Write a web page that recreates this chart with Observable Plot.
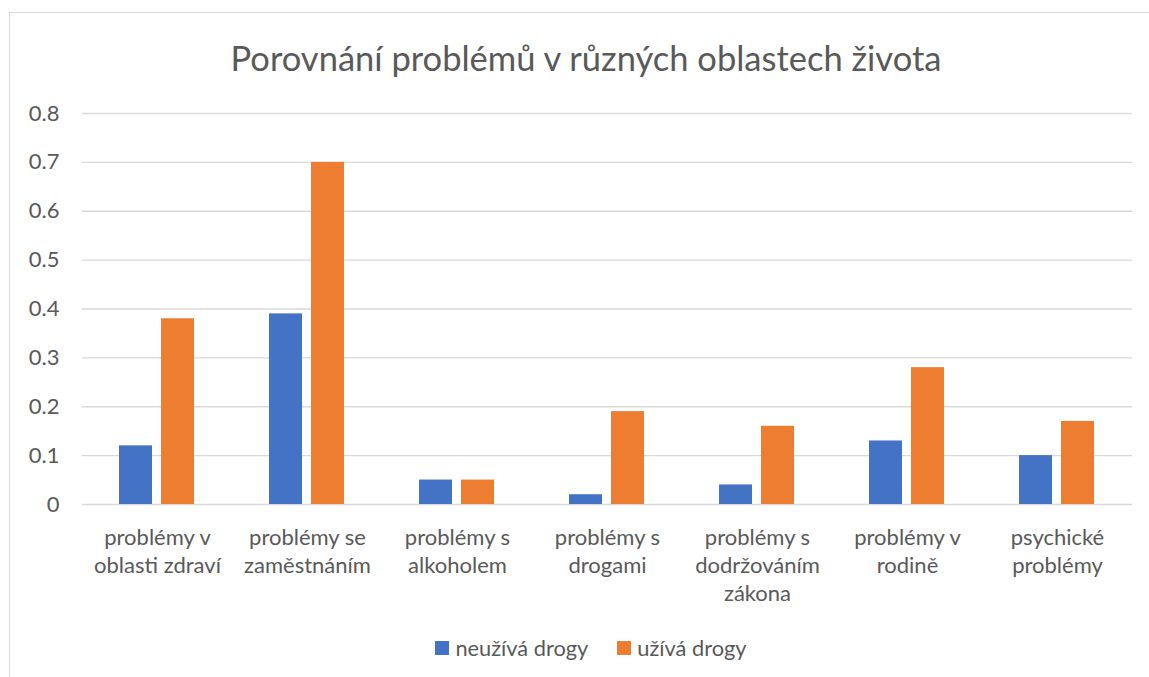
<!DOCTYPE html>
<html>
<head>
<meta charset="utf-8">
<script src="https://cdn.jsdelivr.net/npm/d3@7"></script>
<script src="https://cdn.jsdelivr.net/npm/@observablehq/plot@0.6"></script>
<style>
  html, body { margin: 0; padding: 0; background: #fff; overflow: hidden; }
  body { width: 1149px; height: 677px; position: relative; font-family: Lato, "Noto Sans", sans-serif; color: #595959; }
  #frame { position: absolute; left: 9px; top: 12px; width: 1160px; height: 700px; border: 1.5px solid #d9d9d9; box-sizing: border-box; z-index: 2; pointer-events: none; }
  #title { position: absolute; left: 0; width: 1172px; top: 36px; text-align: center; font-size: 34.5px; line-height: 44px; color: #595959; }
  #chart { position: absolute; left: 0; top: 92px; }
  #legend { position: absolute; left: 0; width: 1182px; top: 634px; display: flex; justify-content: center; gap: 29px; font-size: 21.8px; line-height: 28px; color: #595959; }
  .item { display: flex; align-items: center; gap: 6px; }
  .sw { width: 14px; height: 14px; display: inline-block; }
</style>
</head>
<body>
<div id="frame"></div>
<div id="title">Porovnání problémů v různých oblastech života</div>
<div id="chart"></div>
<div id="legend"></div>
<script>
const categories = ["zdravi", "zamestnani", "alkohol", "drogy", "zakon", "rodina", "psychicke"];
const categoryLabels = [
  "problémy v\noblasti zdraví",
  "problémy se\nzaměstnáním",
  "problémy s\nalkoholem",
  "problémy s\ndrogami",
  "problémy s\ndodržováním\nzákona",
  "problémy v\nrodině",
  "psychické\nproblémy"
];
const seriesNames = ["neužívá drogy", "užívá drogy"];
const seriesColors = ["#4472C4", "#ED7D31"];
const neuzivaValues = [0.12, 0.39, 0.05, 0.02, 0.04, 0.13, 0.10];
const uzivaValues = [0.38, 0.70, 0.05, 0.19, 0.16, 0.28, 0.17];
const yTicks = [0, 0.1, 0.2, 0.3, 0.4, 0.5, 0.6, 0.7, 0.8];

const data = [];
categories.forEach((c, i) => {
  data.push({category: c, series: seriesNames[0], value: neuzivaValues[i]});
  data.push({category: c, series: seriesNames[1], value: uzivaValues[i]});
});
const labelOf = new Map(categories.map((c, i) => [c, categoryLabels[i]]));

const chart = Plot.plot({
  width: 1149,
  height: 522,
  marginTop: 21,
  marginBottom: 110,
  marginLeft: 80,
  marginRight: 16,
  style: { fontFamily: "Lato, 'Noto Sans', sans-serif", fontSize: "22px", color: "#595959", background: "transparent", overflow: "visible" },
  fx: { domain: categories, padding: 0, label: null },
  x: { domain: seriesNames, paddingInner: 0.209, paddingOuter: 0.853, axis: null },
  y: { domain: [0, 0.8], label: null },
  color: { domain: seriesNames, range: seriesColors },
  marks: [
    Plot.gridY(yTicks, { stroke: "#d9d9d9", strokeOpacity: 1, strokeWidth: 1.3 }),
    Plot.axisY(yTicks, {
      tickSize: 0, tickPadding: 23, label: null,
      tickFormat: d => d === 0 ? "0" : d.toFixed(1),
      fill: "#595959", fontSize: 22
    }),
    Plot.axisFx({
      anchor: "bottom", tickSize: 0, tickPadding: 20, label: null,
      tickFormat: d => labelOf.get(d), lineHeight: 1.28,
      fill: "#595959", fontSize: 22
    }),
    Plot.barY(data, { fx: "category", x: "series", y: "value", fill: "series" })
  ]
});
document.getElementById("chart").appendChild(chart);

const legend = document.getElementById("legend");
seriesNames.forEach((name, i) => {
  const item = document.createElement("div");
  item.className = "item";
  const sw = document.createElement("span");
  sw.className = "sw";
  sw.style.background = seriesColors[i];
  const t = document.createElement("span");
  t.textContent = name;
  item.appendChild(sw);
  item.appendChild(t);
  legend.appendChild(item);
});
</script>
</body>
</html>
